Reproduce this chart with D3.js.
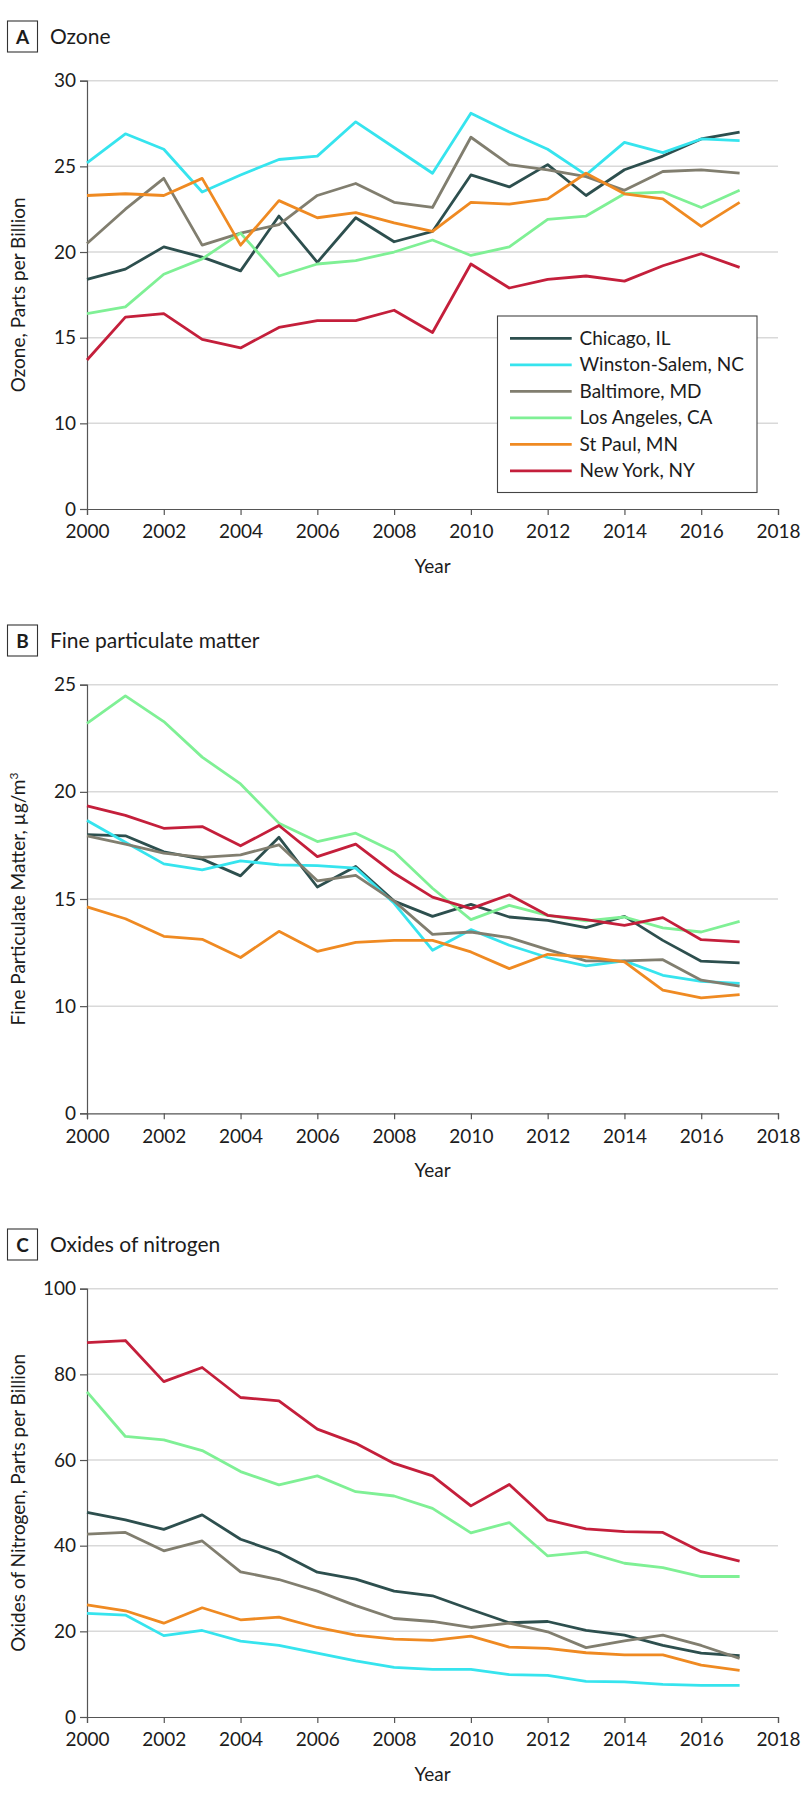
<!DOCTYPE html>
<html><head><meta charset="utf-8">
<script src="https://cdn.jsdelivr.net/npm/d3@7"></script>
<style>
body{margin:0;background:#fff}
svg{display:block}
text{font-family:Lato,"Liberation Sans",sans-serif;fill:#1c1c1c}
</style>
</head><body>
<svg id="chart" width="801" height="1802"></svg>
<script>
// ---------- data ----------
const years = [2000,2001,2002,2003,2004,2005,2006,2007,2008,2009,2010,2011,2012,2013,2014,2015,2016,2017];
const cities = ["Chicago, IL","Winston-Salem, NC","Baltimore, MD","Los Angeles, CA","St Paul, MN","New York, NY"];
const cityColors = ["#2d4f4e","#36e4ee","#817e6f","#7ff095","#ef8a22","#c41f3b"];

// Panel A: ozone, parts per billion
const ozoneChicago   = [18.4,19.0,20.3,19.7,18.9,22.1,19.4,22.0,20.6,21.2,24.5,23.8,25.1,23.3,24.8,25.6,26.6,27.0];
const ozoneWinston   = [25.2,26.9,26.0,23.5,24.5,25.4,25.6,27.6,26.1,24.6,28.1,27.0,26.0,24.5,26.4,25.8,26.6,26.5];
const ozoneBaltimore = [20.5,22.5,24.3,20.4,21.1,21.6,23.3,24.0,22.9,22.6,26.7,25.1,24.8,24.4,23.6,24.7,24.8,24.6];
const ozoneLA        = [16.4,16.8,18.7,19.6,21.1,18.6,19.3,19.5,20.0,20.7,19.8,20.3,21.9,22.1,23.4,23.5,22.6,23.6];
const ozoneStPaul    = [23.3,23.4,23.3,24.3,20.4,23.0,22.0,22.3,21.7,21.2,22.9,22.8,23.1,24.6,23.4,23.1,21.5,22.9];
const ozoneNY        = [13.7,16.2,16.4,14.9,14.4,15.6,16.0,16.0,16.6,15.3,19.3,17.9,18.4,18.6,18.3,19.2,19.9,19.1];

// Panel B: fine particulate matter, ug/m3
const pmChicago   = [18.0,17.95,17.2,16.86,16.08,17.88,15.56,16.52,14.9,14.19,14.75,14.16,14.0,13.66,14.19,13.07,12.1,12.02];
const pmWinston   = [18.66,17.65,16.64,16.36,16.78,16.59,16.56,16.44,14.8,12.61,13.57,12.84,12.27,11.88,12.11,11.44,11.16,11.06];
const pmBaltimore = [17.95,17.56,17.14,16.94,17.06,17.53,15.85,16.1,14.9,13.35,13.46,13.2,12.64,12.11,12.11,12.17,11.21,10.93];
const pmLA        = [23.2,24.48,23.28,21.62,20.37,18.54,17.68,18.07,17.2,15.5,14.04,14.7,14.24,13.98,14.16,13.65,13.46,13.96];
const pmStPaul    = [14.63,14.08,13.26,13.12,12.27,13.49,12.56,12.98,13.07,13.07,12.53,11.75,12.42,12.3,12.07,10.75,10.39,10.54];
const pmNY        = [19.35,18.9,18.3,18.38,17.48,18.43,16.98,17.56,16.2,15.09,14.55,15.2,14.24,14.04,13.77,14.13,13.1,13.0];

// Panel C: oxides of nitrogen, parts per billion
const noxChicago   = [47.8,46.0,43.8,47.2,41.5,38.4,33.8,32.2,29.4,28.3,25.1,22.0,22.3,20.2,19.1,16.7,14.9,14.3];
const noxWinston   = [24.2,23.8,19.0,20.2,17.7,16.7,14.9,13.1,11.6,11.1,11.1,9.9,9.7,8.3,8.2,7.6,7.4,7.4];
const noxBaltimore = [42.7,43.1,38.8,41.1,33.9,32.1,29.4,26.0,23.0,22.3,20.9,21.9,19.9,16.2,17.8,19.1,16.7,13.7];
const noxLA        = [75.9,65.5,64.7,62.2,57.3,54.2,56.3,52.6,51.6,48.7,43.0,45.4,37.6,38.5,35.9,34.9,32.8,32.8];
const noxStPaul    = [26.2,24.8,21.9,25.5,22.7,23.3,20.9,19.1,18.2,17.9,18.9,16.3,16.0,15.0,14.5,14.5,12.1,10.9];
const noxNY        = [87.4,87.9,78.3,81.6,74.6,73.8,67.2,63.9,59.2,56.3,49.3,54.3,46.0,43.9,43.3,43.1,38.6,36.4];

const xTicks = [2000,2002,2004,2006,2008,2010,2012,2014,2016,2018];
const ozoneTicks = [0,10,15,20,25,30];
const pmTicks = [0,10,15,20,25];
const noxTicks = [0,20,40,60,80,100];

// ---------- layout ----------
const svg = d3.select("#chart");
const left = 87, right = 778;
const x = d3.scaleLinear().domain([2000,2018]).range([left,right]);

const panels = [
  {letter:"A", title:"Ozone", ylabel:["Ozone, Parts per Billion"], top:80.7, bottom:509,
   ticks:ozoneTicks, broken:true, series:[ozoneChicago,ozoneWinston,ozoneBaltimore,ozoneLA,ozoneStPaul,ozoneNY], legend:true},
  {letter:"B", title:"Fine particulate matter", ylabel:["Fine Particulate Matter, µg/m","3"], top:684.7, bottom:1113.3,
   ticks:pmTicks, broken:true, series:[pmChicago,pmWinston,pmBaltimore,pmLA,pmStPaul,pmNY]},
  {letter:"C", title:"Oxides of nitrogen", ylabel:["Oxides of Nitrogen, Parts per Billion"], top:1288.7, bottom:1717,
   ticks:noxTicks, broken:false, series:[noxChicago,noxWinston,noxBaltimore,noxLA,noxStPaul,noxNY]}
];

panels.forEach(p => {
  const g = svg.append("g");
  let y;
  const n = p.ticks.length - 1;
  const step = (p.bottom - p.top) / n;
  if (p.broken) {
    y = d3.scaleLinear().domain([0, p.ticks[1], p.ticks[n]]).range([p.bottom, p.bottom - step, p.top]);
  } else {
    y = d3.scaleLinear().domain([p.ticks[0], p.ticks[n]]).range([p.bottom, p.top]);
  }

  // panel heading
  const hy = p.top - 59.7;
  g.append("rect").attr("x",7.5).attr("y",hy).attr("width",30).attr("height",31)
    .attr("fill","#fff").attr("stroke","#333").attr("stroke-width",1.1);
  g.append("text").attr("x",22.5).attr("y",hy+22.5).attr("text-anchor","middle")
    .style("font-weight","bold").style("font-size","19px").text(p.letter);
  g.append("text").attr("x",50).attr("y",hy+23.3).style("font-size","21px").text(p.title);

  // grid
  g.append("g").selectAll("line").data(p.ticks.filter(t => t !== 0)).join("line")
    .attr("x1",left).attr("x2",right).attr("y1",d=>y(d)).attr("y2",d=>y(d))
    .attr("stroke","#d9d9d9").attr("stroke-width",1.5);

  // y axis
  const ya = g.append("g").attr("transform",`translate(${left},0)`)
    .call(d3.axisLeft(y).tickValues(p.ticks).tickSize(7).tickPadding(4).tickFormat(d3.format("d")));
  ya.select(".domain").attr("stroke","#555").attr("stroke-width",1.2);
  ya.selectAll(".tick line").attr("stroke","#555").attr("stroke-width",1.2);
  ya.selectAll(".tick text").style("font-size","19px").style("font-family","Lato,'Liberation Sans',sans-serif").attr("fill","#1c1c1c");

  // x axis
  const xa = g.append("g").attr("transform",`translate(0,${p.bottom})`)
    .call(d3.axisBottom(x).tickValues(xTicks).tickSize(6).tickPadding(10).tickFormat(d3.format("d")));
  xa.select(".domain").attr("stroke","#555").attr("stroke-width",1.2);
  xa.selectAll(".tick line").attr("stroke","#555").attr("stroke-width",1.2);
  xa.selectAll(".tick text").style("font-size","19px").style("font-family","Lato,'Liberation Sans',sans-serif").attr("fill","#1c1c1c");

  // axis titles
  g.append("text").attr("x",(left+right)/2).attr("y",p.bottom+64).attr("text-anchor","middle")
    .style("font-size","19px").text("Year");
  const yt = g.append("text").attr("transform",`translate(25,${(p.top+p.bottom)/2}) rotate(-90)`)
    .attr("text-anchor","middle").style("font-size","19px");
  yt.append("tspan").text(p.ylabel[0]);
  if (p.ylabel[1]) yt.append("tspan").attr("dy",-7).style("font-size","12px").text(p.ylabel[1]);

  // lines
  const line = d3.line().x((d,i)=>x(years[i])).y(d=>y(d));
  p.series.forEach((s,i) => {
    g.append("path").datum(s).attr("d",line).attr("fill","none")
      .attr("stroke",cityColors[i]).attr("stroke-width",2.8)
      .attr("stroke-linejoin","round");
  });

  // legend
  if (p.legend) {
    const lg = g.append("g");
    lg.append("rect").attr("x",497.5).attr("y",316).attr("width",259.5).attr("height",176.5)
      .attr("fill","#fff").attr("stroke","#444").attr("stroke-width",1.1);
    cities.forEach((c,i) => {
      const cy = 338.3 + i*26.5;
      lg.append("line").attr("x1",510).attr("x2",571.7).attr("y1",cy).attr("y2",cy)
        .attr("stroke",cityColors[i]).attr("stroke-width",2.8);
      lg.append("text").attr("x",579.5).attr("y",cy).attr("dy","0.35em")
        .style("font-size","19px").text(c);
    });
  }
});
</script>
</body></html>
